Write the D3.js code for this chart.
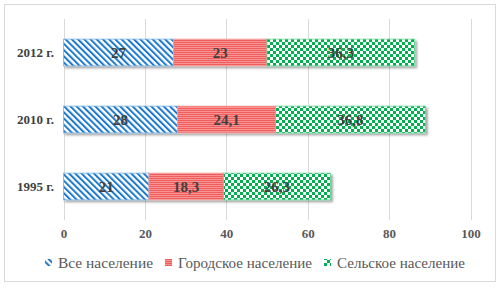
<!DOCTYPE html>
<html>
<head>
<meta charset="utf-8">
<script src="https://cdn.jsdelivr.net/npm/d3@7"></script>
<style>
  body { margin: 0; background: #fff; }
</style>
</head>
<body>
<div id="chart"></div>
<script>
var years = ["2012 г.", "2010 г.", "1995 г."];
var seriesNames = ["Все население", "Городское население", "Сельское население"];
var allPop = [27, 28, 21];
var urbanPop = [23, 24.1, 18.3];
var ruralPop = [36.3, 36.8, 26.3];
var xTicks = [0, 20, 40, 60, 80, 100];

var width = 502,
  height = 288,
  serif = "'Liberation Serif', 'Times New Roman', serif";

var svg = d3.select("#chart").append("svg")
    .attr("width", width)
    .attr("height", height)
    .style("font-family", serif);

var defs = svg.append("defs");

// blue diagonal stripes
var pBlue = defs.append("pattern")
    .attr("id", "pBlue")
    .attr("patternUnits", "userSpaceOnUse")
    .attr("width", 4.4).attr("height", 4.4)
    .attr("patternTransform", "rotate(-45)");
pBlue.append("rect").attr("width", 4.4).attr("height", 4.4).attr("fill", "#fff");
pBlue.append("rect").attr("width", 2).attr("height", 4.4).attr("fill", "#1f78c8");

// red horizontal lines
var pRed = defs.append("pattern")
    .attr("id", "pRed")
    .attr("patternUnits", "userSpaceOnUse")
    .attr("width", 4).attr("height", 2);
pRed.append("rect").attr("width", 4).attr("height", 2).attr("fill", "#f79393");
pRed.append("rect").attr("width", 4).attr("height", 1).attr("fill", "#f05d5d");

// green checkerboard
var pGreen = defs.append("pattern")
    .attr("id", "pGreen")
    .attr("patternUnits", "userSpaceOnUse")
    .attr("width", 6).attr("height", 6);
pGreen.append("rect").attr("width", 6).attr("height", 6).attr("fill", "#fff");
pGreen.append("rect").attr("width", 3).attr("height", 3).attr("fill", "#00b050");
pGreen.append("rect").attr("x", 3).attr("y", 3).attr("width", 3).attr("height", 3).attr("fill", "#00b050");

var shadow = defs.append("filter")
    .attr("id", "shadow")
    .attr("x", "-10%").attr("y", "-30%")
    .attr("width", "130%").attr("height", "180%");
shadow.append("feDropShadow")
    .attr("dx", 2).attr("dy", 2)
    .attr("stdDeviation", 1.3)
    .attr("flood-color", "#000")
    .attr("flood-opacity", 0.35);

var fills = ["url(#pBlue)", "url(#pRed)", "url(#pGreen)"];
var edges = ["#7fb6e6", "#f5a0a0", "#66d69a"];

// outer frame
svg.append("rect")
    .attr("x", 4.5).attr("y", 4.5)
    .attr("width", 491).attr("height", 277)
    .attr("fill", "#fff")
    .attr("stroke", "#d9d9d9");

var x = d3.scaleLinear()
    .domain([0, 100])
    .range([63.5, 470.5]);

var y = d3.scaleBand()
    .domain(years)
    .range([19, 220])
    .paddingInner(0.6)
    .paddingOuter(0.3);

// grid
svg.selectAll(".grid")
    .data(xTicks)
  .enter().append("line")
    .attr("class", "grid")
    .attr("x1", function(d) { return Math.round(x(d)) + 0.5; })
    .attr("x2", function(d) { return Math.round(x(d)) + 0.5; })
    .attr("y1", 19)
    .attr("y2", 220)
    .attr("stroke", "#d9d9d9");

var xAxis = svg.append("g")
    .attr("transform", "translate(0,229)")
    .call(d3.axisBottom(x).tickValues(xTicks).tickSize(0).tickPadding(0))
    .attr("font-family", serif);
xAxis.select(".domain").remove();
xAxis.selectAll("text")
    .attr("dy", "0.71em")
    .attr("font-size", 13)
    .attr("font-weight", "bold")
    .attr("fill", "#595959");

var yAxis = svg.append("g")
    .attr("transform", "translate(54,0)")
    .call(d3.axisLeft(y).tickSize(0).tickPadding(0))
    .attr("font-family", serif);
yAxis.select(".domain").remove();
yAxis.selectAll("text")
    .attr("font-size", 13)
    .attr("font-weight", "bold")
    .attr("fill", "#404040");

// stacked data
var rows = years.map(function(yr, i) {
  return { year: yr, values: [allPop[i], urbanPop[i], ruralPop[i]] };
});

var segs = [];
rows.forEach(function(r) {
  var acc = 0;
  r.values.forEach(function(v, k) {
    segs.push({ year: r.year, k: k, x0: acc, x1: acc + v, v: v });
    acc += v;
  });
});

var bars = svg.append("g").attr("filter", "url(#shadow)");
bars.selectAll("rect")
    .data(segs)
  .enter().append("rect")
    .attr("x", function(d) { return x(d.x0); })
    .attr("y", function(d) { return y(d.year); })
    .attr("width", function(d) { return x(d.x1) - x(d.x0); })
    .attr("height", y.bandwidth())
    .attr("fill", function(d) { return fills[d.k]; })
    .attr("stroke", function(d) { return edges[d.k]; })
    .attr("stroke-width", 0.8);

svg.selectAll(".lbl")
    .data(segs)
  .enter().append("text")
    .attr("class", "lbl")
    .attr("x", function(d) { return (x(d.x0) + x(d.x1)) / 2; })
    .attr("y", function(d) { return y(d.year) + y.bandwidth() / 2; })
    .attr("dy", "0.35em")
    .attr("text-anchor", "middle")
    .attr("font-size", 15)
    .attr("font-weight", "bold")
    .attr("fill", "#404040")
    .text(function(d) { return String(d.v).replace(".", ","); });

// legend
var legendX = [45, 165, 324];
var legendW = [95, 134, 128];
var leg = svg.selectAll(".leg")
    .data(seriesNames)
  .enter().append("g")
    .attr("class", "leg")
    .attr("transform", function(d, i) { return "translate(" + legendX[i] + ",263)"; });
leg.append("rect")
    .attr("x", 0).attr("y", -4)
    .attr("width", 7).attr("height", 7)
    .attr("fill", function(d, i) { return fills[i]; });
leg.append("text")
    .attr("x", 13)
    .attr("dy", "0.35em")
    .attr("font-size", 15)
    .attr("fill", "#595959")
    .attr("textLength", function(d, i) { return legendW[i]; })
    .attr("lengthAdjust", "spacingAndGlyphs")
    .text(function(d) { return d; });
</script>
</body>
</html>
